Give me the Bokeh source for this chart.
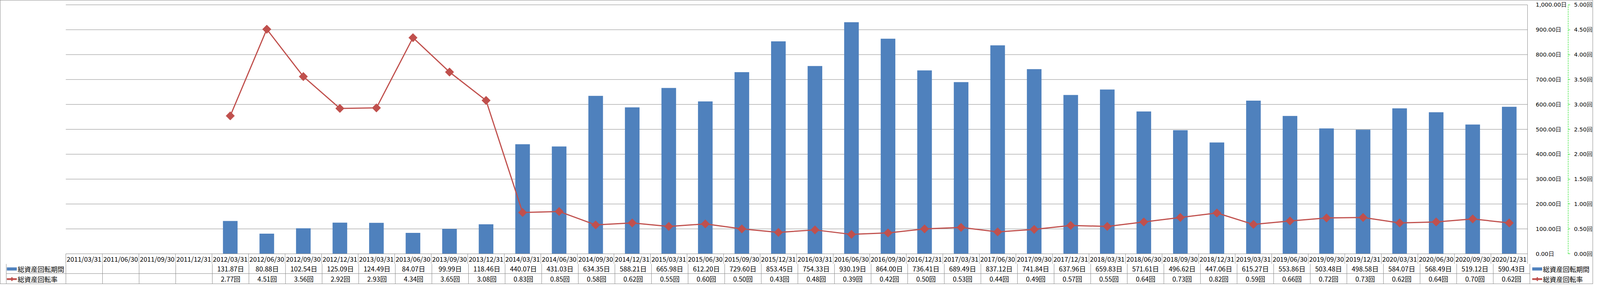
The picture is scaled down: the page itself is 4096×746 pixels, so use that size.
import numpy as np
from bokeh.plotting import figure
from bokeh.layouts import column
from bokeh.models import Range1d, LinearAxis, FixedTicker, Legend, LegendItem
from bokeh.core.properties import value
from bokeh.embed import file_html
from bokeh.resources import INLINE

# ---------------- data ----------------
DATES = [
    "2011/03/31", "2011/06/30", "2011/09/30", "2011/12/31",
    "2012/03/31", "2012/06/30", "2012/09/30", "2012/12/31",
    "2013/03/31", "2013/06/30", "2013/09/30", "2013/12/31",
    "2014/03/31", "2014/06/30", "2014/09/30", "2014/12/31",
    "2015/03/31", "2015/06/30", "2015/09/30", "2015/12/31",
    "2016/03/31", "2016/06/30", "2016/09/30", "2016/12/31",
    "2017/03/31", "2017/06/30", "2017/09/30", "2017/12/31",
    "2018/03/31", "2018/06/30", "2018/09/30", "2018/12/31",
    "2019/03/31", "2019/06/30", "2019/09/30", "2019/12/31",
    "2020/03/31", "2020/06/30", "2020/09/30", "2020/12/31",
]
PERIOD_DAYS = [
    None, None, None, None,
    131.87, 80.88, 102.54, 125.09,
    124.49, 84.07, 99.99, 118.46,
    440.07, 431.03, 634.35, 588.21,
    665.98, 612.20, 729.60, 853.45,
    754.33, 930.19, 864.00, 736.41,
    689.49, 837.12, 741.84, 637.96,
    659.83, 571.61, 496.62, 447.06,
    615.27, 553.86, 503.48, 498.58,
    584.07, 568.49, 519.12, 590.43,
]
TURNOVER = [
    None, None, None, None,
    2.77, 4.51, 3.56, 2.92,
    2.93, 4.34, 3.65, 3.08,
    0.83, 0.85, 0.58, 0.62,
    0.55, 0.60, 0.50, 0.43,
    0.48, 0.39, 0.42, 0.50,
    0.53, 0.44, 0.49, 0.57,
    0.55, 0.64, 0.73, 0.82,
    0.59, 0.66, 0.72, 0.73,
    0.62, 0.64, 0.70, 0.62,
]
SERIES = ["総資産回転期間", "総資産回転率"]
Y1_TICKS = [0, 100, 200, 300, 400, 500, 600, 700, 800, 900, 1000]
Y1_LABELS = ["0.00日", "100.00日", "200.00日", "300.00日", "400.00日", "500.00日",
             "600.00日", "700.00日", "800.00日", "900.00日", "1,000.00日"]
Y2_TICKS = [0, 0.5, 1.0, 1.5, 2.0, 2.5, 3.0, 3.5, 4.0, 4.5, 5.0]
Y2_LABELS = ["0.00回", "0.50回", "1.00回", "1.50回", "2.00回", "2.50回",
             "3.00回", "3.50回", "4.00回", "4.50回", "5.00回"]

# ---------------- styles / geometry ----------------
BAR_COLOR = "#4F81BD"
LINE_COLOR = "#C0504D"
GRID_COLOR = "#878787"
BORDER = "1px solid #8a8a8a"
AXIS2_COLOR = "#00DD00"
TEXT_FONT = "Noto Sans CJK JP"
AXIS_FONT = "DejaVu Sans"
FS = "17px"

W, H = 4078, 728
REF_W, REF_H = 5877, 1071
SX, SY = W / REF_W, H / REF_H
PLOT_L, PLOT_R, PLOT_T, PLOT_B = 241, 5642, 16, 955
TABLE_L, ROW1, ROW2, TABLE_B = 21, 993, 1031, 1070

H1 = int(round((ROW1 + 2) * SY))   # top figure: chart + header row
H2 = H - H1                         # bottom figure: two data rows

n = len(DATES)
fl = int(TABLE_L * SX) - 2
fr = int(PLOT_R * SX) + 3
ft = int(PLOT_T * SY) - 2

col_px = (PLOT_R - PLOT_L) * SX / n
x0px = PLOT_L * SX
unit = (PLOT_B - PLOT_T) * SY / Y1_TICKS[-1]
y0px = PLOT_B * SY


def rx(ref_x):
    return (ref_x * SX - x0px) / col_px


def ry(ref_y):
    return -(ref_y * SY - y0px) / unit


x_start, x_end = (fl - x0px) / col_px, (fr - x0px) / col_px
y_start, y_end = -(H1 - y0px) / unit, (y0px - ft) / unit
ratio = Y1_TICKS[-1] / Y2_TICKS[-1]

# ================= top figure: chart + header row =================
p = figure(width=W, height=H1, output_backend="svg", toolbar_location=None,
           x_range=Range1d(x_start, x_end), y_range=Range1d(y_start, y_end),
           x_axis_location=None, y_axis_location="right",
           min_border_left=fl, min_border_right=W - fr,
           min_border_top=ft, min_border_bottom=0,
           outline_line_color=None, background_fill_color="white",
           border_fill_color="white")
p.extra_y_ranges = {"y2": Range1d(y_start / ratio, y_end / ratio)}
p.xgrid.visible = False
p.ygrid.visible = False
p.styles = {"border-top": BORDER, "border-left": BORDER, "border-right": BORDER}

ax1 = p.yaxis[0]
ax1.ticker = FixedTicker(ticks=Y1_TICKS)
ax1.major_label_overrides = dict(zip(Y1_TICKS, Y1_LABELS))
ax1.bounds = (Y1_TICKS[0], Y1_TICKS[-1])
ax1.axis_line_color = None
ax1.major_tick_line_color = None
ax1.minor_tick_line_color = None
ax1.major_label_standoff = int(5664 * SX - fr)
ax1.major_label_text_font = AXIS_FONT
ax1.major_label_text_font_size = "14.5px"
ax1.major_label_text_color = "black"

ax2 = LinearAxis(y_range_name="y2", ticker=FixedTicker(ticks=Y2_TICKS))
ax2.major_label_overrides = dict(zip(Y2_TICKS, Y2_LABELS))
ax2.bounds = (Y2_TICKS[0], Y2_TICKS[-1])
ax2.axis_line_color = AXIS2_COLOR
ax2.axis_line_dash = "4 2"
ax2.axis_line_width = 1
ax2.major_tick_line_color = AXIS2_COLOR
ax2.major_tick_in = 0
ax2.major_tick_out = 5
ax2.minor_tick_line_color = None
ax2.major_label_standoff = 10
ax2.major_label_text_font = AXIS_FONT
ax2.major_label_text_font_size = "14.5px"
ax2.major_label_text_color = "black"
p.add_layout(ax2, "right")

gy = Y1_TICKS[1:]
p.segment(x0=[0] * len(gy), x1=[n] * len(gy), y0=gy, y1=gy,
          line_color=GRID_COLOR, line_width=1)

xs = [i + 0.5 for i in range(n)]
period = [np.nan if v is None else v for v in PERIOD_DAYS]
turn = [np.nan if v is None else v for v in TURNOVER]

p.vbar(x=xs, top=period, bottom=0, width=54 / 135,
       fill_color=BAR_COLOR, line_color=None)
p.line(x=xs, y=turn, y_range_name="y2", line_color=LINE_COLOR, line_width=3)
p.scatter(x=xs, y=turn, y_range_name="y2", marker="square", angle=np.pi / 4,
          size=15.5, fill_color=LINE_COLOR, line_color=LINE_COLOR)

# header row lines
r1 = ry(ROW1)
p.segment(x0=[0, rx(TABLE_L)], x1=[n, n], y0=[0, r1], y1=[0, r1],
          line_color=GRID_COLOR, line_width=1)
vx = list(range(n)) + [n]
vy0 = [0] * n + [Y1_TICKS[-1]]
p.segment(x0=vx, x1=vx, y0=vy0, y1=[y_start] * len(vx),
          line_color=GRID_COLOR, line_width=1)
p.text(x=xs, y=[ry((PLOT_B + ROW1) / 2)] * n, text=DATES,
       text_font=value(TEXT_FONT), text_font_size=FS, text_align="center",
       text_baseline="middle", text_color="black")

# ================= bottom figure: data rows + legends =================
top_ref = H1 / SY
bx_start, bx_end = -x0px / col_px, (W - x0px) / col_px
q = figure(width=W, height=H2, output_backend="svg", toolbar_location=None,
           x_range=Range1d(bx_start, bx_end),
           y_range=Range1d(-(H / SY), -top_ref),
           x_axis_location=None, y_axis_location=None,
           min_border_left=0, min_border_right=0, min_border_top=0,
           min_border_bottom=0, outline_line_color=None,
           background_fill_color="white", border_fill_color="white")
q.xgrid.visible = False
q.ygrid.visible = False
q.styles = {"border-bottom": BORDER, "border-left": BORDER, "border-right": BORDER}

# keep each figure's frame where it is set (no cross-figure frame alignment)
for fig in (p, q):
    if hasattr(fig, "frame_align"):
        fig.frame_align = False

tl = rx(TABLE_L)
q.segment(x0=[tl], x1=[n], y0=[-ROW2], y1=[-ROW2], line_color=GRID_COLOR, line_width=1)
bvx = [tl] + list(range(n + 1))
q.segment(x0=bvx, x1=bvx, y0=[-top_ref] * len(bvx), y1=[-(H / SY)] * len(bvx),
          line_color=GRID_COLOR, line_width=1)

vi = [i for i in range(n) if PERIOD_DAYS[i] is not None]
q.text(x=[xs[i] for i in vi], y=[-(ROW1 + ROW2) / 2] * len(vi),
       text=[f"{PERIOD_DAYS[i]:.2f}日" for i in vi],
       text_font=value(TEXT_FONT), text_font_size=FS, text_align="center",
       text_baseline="middle", text_color="black")
ti = [i for i in range(n) if TURNOVER[i] is not None]
q.text(x=[xs[i] for i in ti], y=[-(ROW2 + TABLE_B) / 2] * len(ti),
       text=[f"{TURNOVER[i]:.2f}回" for i in ti],
       text_font=value(TEXT_FONT), text_font_size=FS, text_align="center",
       text_baseline="middle", text_color="black")

# legend-key renderers (hidden in the plot, drawn only in the legends)
leg_bar = q.line(x=xs, y=period, line_color=BAR_COLOR, line_width=8, visible=False)
leg_line = q.line(x=xs, y=turn, line_color=LINE_COLOR, line_width=4.5, visible=False)
leg_mark = q.scatter(x=xs, y=turn, marker="diamond", fill_color=LINE_COLOR,
                     line_color=LINE_COLOR, visible=False)

GW = 26
ROWH = H2 / 2


def make_legend(ref_center_x):
    start = ref_center_x * SX - GW / 2
    items = [LegendItem(label=SERIES[0], renderers=[leg_bar]),
             LegendItem(label=SERIES[1], renderers=[leg_line, leg_mark])]
    return Legend(items=items, location=(start, 0), orientation="vertical",
                  glyph_width=GW, glyph_height=int(ROWH), label_height=int(ROWH),
                  spacing=0, padding=0, margin=0, label_standoff=2,
                  border_line_color=None, background_fill_alpha=0,
                  label_text_font=TEXT_FONT, label_text_font_size=FS,
                  label_text_color="black")


q.add_layout(make_legend(42))
q.add_layout(make_legend(5669.5))

layout = column(p, q, spacing=0)
open("out.html", "w").write(file_html(layout, INLINE))
